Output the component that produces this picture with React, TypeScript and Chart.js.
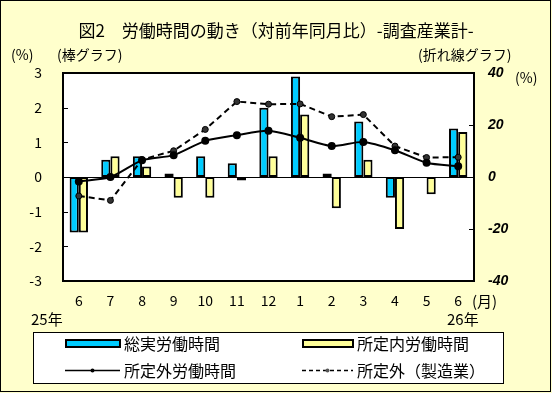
import { useEffect, useRef } from "react";
import { Chart, registerables } from "chart.js";

Chart.register(...registerables);

const months = ["6", "7", "8", "9", "10", "11", "12", "1", "2", "3", "4", "5", "6"];
const totalHours = [-1.6, 0.5, 0.6, 0.1, 0.6, 0.4, 2.0, 2.9, 0.1, 1.6, -0.6, 0, 1.4];
const scheduledHours = [-1.6, 0.6, 0.3, -0.6, -0.6, -0.1, 0.6, 1.8, -0.9, 0.5, -1.5, -0.5, 1.3];
const overtimeHours = [-1.7, 0, 6.4, 8.4, 13.9, 16.1, 17.8, 15.1, 11.9, 13.5, 10.3, 5.5, 4.1];
const overtimeMfg = [-7.3, -9.0, 6.7, 10.1, 18.3, 29.0, 28.0, 28.1, 23.2, 24.0, 11.9, 7.5, 7.6];

const seriesNames = ["総実労働時間", "所定内労働時間", "所定外労働時間", "所定外（製造業）"];
const titleText = "図2　労働時間の動き（対前年同月比）-調査産業計-";
const leftMin = -3;
const leftMax = 3;
const leftStep = 1;
const rightMin = -40;
const rightMax = 40;
const rightStep = 20;

const JP = '"Noto Sans CJK JP", "Noto Sans", sans-serif';
const BLUE = "#00CCFF";
const YELLOW = "#FFFF99";
const BG = "#FFFFCC";

const decoPlugin = {
  id: "deco",
  beforeDraw(chart: any) {
    const { ctx, chartArea: a } = chart;
    ctx.save();
    ctx.fillStyle = BG;
    ctx.fillRect(0, 0, chart.width, chart.height);
    ctx.strokeStyle = "#000";
    ctx.lineWidth = 1;
    ctx.strokeRect(0.5, 0.5, 550, 391);
    ctx.fillStyle = "#fff";
    ctx.fillRect(a.left, a.top, a.right - a.left, a.bottom - a.top);
    ctx.restore();
  },
  beforeDatasetsDraw(chart: any) {
    const { ctx, chartArea: a, scales } = chart;
    ctx.save();
    ctx.strokeStyle = "#000";
    ctx.lineWidth = 1;
    const y0 = Math.round(scales.y.getPixelForValue(0)) + 0.5;
    ctx.beginPath();
    ctx.moveTo(a.left, y0);
    ctx.lineTo(a.right, y0);
    for (let v = leftMin + leftStep; v < leftMax; v += leftStep) {
      const yy = Math.round(scales.y.getPixelForValue(v)) + 0.5;
      ctx.moveTo(a.left, yy);
      ctx.lineTo(a.left + 5, yy);
    }
    for (let v = rightMin + rightStep; v < rightMax; v += rightStep) {
      const yy = Math.round(scales.y2.getPixelForValue(v)) + 0.5;
      ctx.moveTo(a.right - 5, yy);
      ctx.lineTo(a.right, yy);
    }
    ctx.stroke();
    ctx.restore();
  },
  afterDatasetsDraw(chart: any) {
    const { ctx, chartArea: a } = chart;
    ctx.save();
    ctx.strokeStyle = "#000";
    ctx.lineWidth = 2;
    ctx.strokeRect(a.left, a.top, a.right - a.left, a.bottom - a.top);
    ctx.restore();
  },
  afterDraw(chart: any) {
    const { ctx } = chart;
    ctx.save();
    ctx.fillStyle = "#000";
    ctx.textBaseline = "middle";
    // title
    ctx.font = `17px ${JP}`;
    ctx.textAlign = "center";
    ctx.fillText(titleText, 276, 31);
    // axis captions
    ctx.font = `14px ${JP}`;
    ctx.textAlign = "left";
    ctx.fillText("(%)", 11, 55);
    ctx.fillText("(棒グラフ)", 57, 55);
    ctx.fillText("(折れ線グラフ)", 418, 55);
    ctx.fillText("(%)", 515, 78);
    ctx.font = `15px ${JP}`;
    ctx.fillText("(月)", 472, 301);
    ctx.fillText("25年", 31, 319);
    ctx.fillText("26年", 447, 319);

    // legend
    ctx.fillStyle = "#fff";
    ctx.fillRect(33, 332, 470, 51);
    ctx.strokeStyle = "#000";
    ctx.lineWidth = 1;
    ctx.strokeRect(33.5, 332.5, 470, 51);

    const ds = chart.data.datasets;
    // bar swatches
    ctx.lineWidth = 2;
    ctx.fillStyle = ds[0].backgroundColor;
    ctx.fillRect(66, 340, 54, 7);
    ctx.strokeRect(66, 340, 54, 7);
    ctx.fillStyle = ds[1].backgroundColor;
    ctx.fillRect(303, 340, 50, 7);
    ctx.strokeRect(303, 340, 50, 7);
    // line swatches
    ctx.lineWidth = 1.5;
    ctx.beginPath();
    ctx.moveTo(65, 370.5);
    ctx.lineTo(120, 370.5);
    ctx.stroke();
    ctx.fillStyle = "#000";
    ctx.beginPath();
    ctx.arc(92.5, 370.5, 2, 0, Math.PI * 2);
    ctx.fill();
    ctx.setLineDash([4, 3]);
    ctx.beginPath();
    ctx.moveTo(302, 370.5);
    ctx.lineTo(353, 370.5);
    ctx.stroke();
    ctx.setLineDash([]);
    ctx.fillStyle = "#555";
    ctx.beginPath();
    ctx.arc(327.5, 370.5, 2, 0, Math.PI * 2);
    ctx.fill();

    ctx.fillStyle = "#000";
    ctx.font = `16px ${JP}`;
    ctx.textAlign = "left";
    ctx.fillText(ds[0].label, 124, 344);
    ctx.fillText(ds[1].label, 357, 344);
    ctx.fillText(ds[2].label, 124, 371);
    ctx.fillText(ds[3].label, 357, 371);
    ctx.restore();
  },
};

export default function App() {
  const ref = useRef<HTMLCanvasElement | null>(null);

  useEffect(() => {
    document.body.style.margin = "0";
    const canvas = ref.current;
    if (!canvas) return;
    const chart = new Chart(canvas, {
      type: "bar",
      data: {
        labels: months,
        datasets: [
          {
            type: "bar",
            label: seriesNames[0],
            data: totalHours,
            backgroundColor: BLUE,
            borderColor: "#000",
            borderWidth: 2,
            borderSkipped: false,
            yAxisID: "y",
            order: 2,
            categoryPercentage: 0.58,
            barPercentage: 1,
          },
          {
            type: "bar",
            label: seriesNames[1],
            data: scheduledHours,
            backgroundColor: YELLOW,
            borderColor: "#000",
            borderWidth: 2,
            borderSkipped: false,
            yAxisID: "y",
            order: 2,
            categoryPercentage: 0.58,
            barPercentage: 1,
          },
          {
            type: "line",
            label: seriesNames[2],
            data: overtimeHours,
            borderColor: "#000",
            borderWidth: 2,
            backgroundColor: "#000",
            pointBackgroundColor: "#000",
            pointBorderColor: "#000",
            pointRadius: 3,
            tension: 0.25,
            yAxisID: "y2",
            order: 1,
          },
          {
            type: "line",
            label: seriesNames[3],
            data: overtimeMfg,
            borderColor: "#000",
            borderWidth: 2,
            borderDash: [6, 4],
            backgroundColor: "#000",
            pointBackgroundColor: "#333",
            pointBorderColor: "#000",
            pointBorderWidth: 1,
            pointRadius: 3,
            tension: 0,
            yAxisID: "y2",
            order: 1,
          },
        ] as any,
      },
      options: {
        responsive: false,
        animation: false,
        layout: { padding: { top: 73, left: 0, right: 0, bottom: 0 } },
        plugins: {
          legend: { display: false },
          tooltip: { enabled: false },
          title: { display: false },
        },
        scales: {
          x: {
            position: "bottom",
            grid: { display: false, drawTicks: false },
            border: { display: false },
            ticks: {
              color: "#000",
              font: { family: JP, size: 14 },
              padding: 11,
              maxRotation: 0,
              autoSkip: false,
            },
            afterFit: (s: any) => {
              s.height = 112;
            },
          },
          y: {
            position: "left",
            min: leftMin,
            max: leftMax,
            grid: { display: false, drawTicks: false },
            border: { display: false },
            ticks: {
              stepSize: leftStep,
              color: "#000",
              font: { family: JP, size: 14 },
              padding: 21,
            },
            afterFit: (s: any) => {
              s.width = 63;
            },
          },
          y2: {
            position: "right",
            min: rightMin,
            max: rightMax,
            grid: { display: false, drawTicks: false },
            border: { display: false },
            ticks: {
              stepSize: rightStep,
              color: "#000",
              font: { family: '"Liberation Sans", Arial, sans-serif', size: 14, style: "italic", weight: "bold" },
              padding: 14,
            },
            afterFit: (s: any) => {
              s.width = 78;
            },
          },
        },
      } as any,
      plugins: [decoPlugin],
    });
    return () => chart.destroy();
  }, []);

  return (
    <canvas
      ref={ref}
      width={552}
      height={393}
      style={{ display: "block", width: 552, height: 393 }}
    />
  );
}
